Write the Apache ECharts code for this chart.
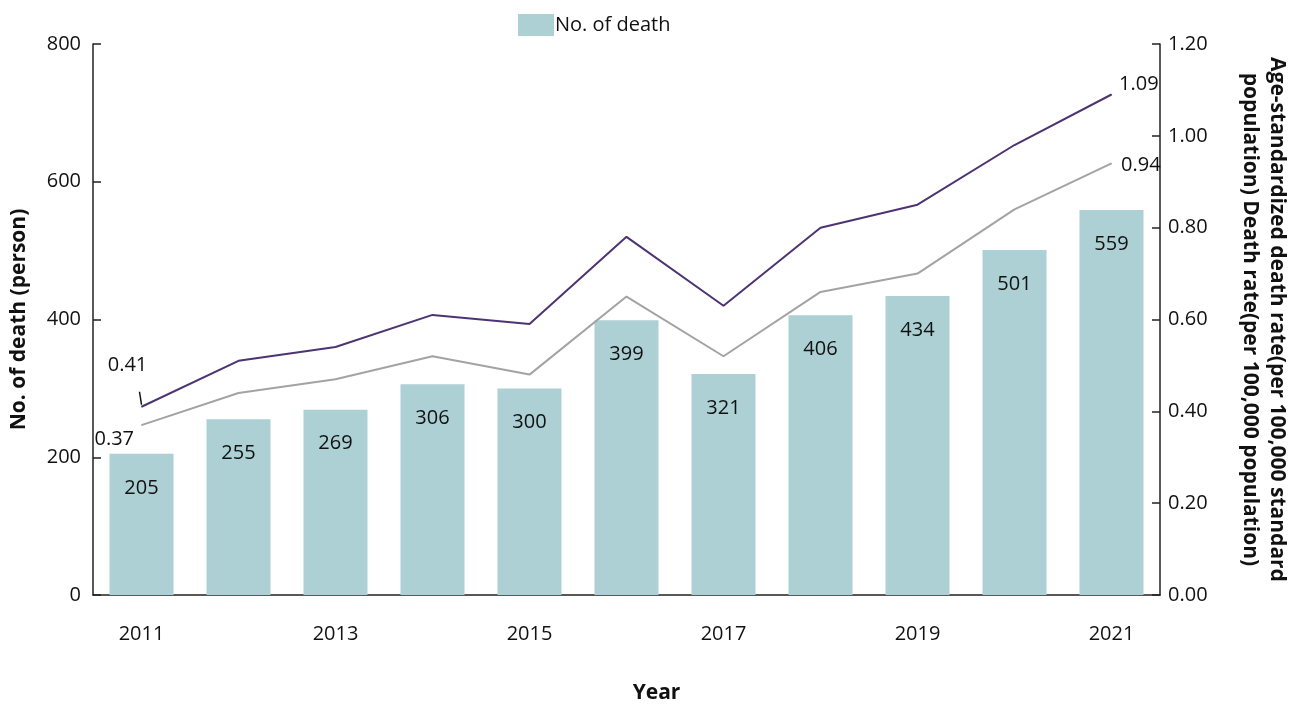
<!DOCTYPE html>
<html>
<head>
<meta charset="utf-8">
<script src="https://cdn.jsdelivr.net/npm/echarts@6/dist/echarts.min.js"></script>
<style>
  html, body { margin: 0; padding: 0; background: #fff; }
  #chart { width: 1290px; height: 704px; }
</style>
</head>
<body>
<div id="chart"></div>
<script>
// data
var years = ['2011', '2012', '2013', '2014', '2015', '2016', '2017', '2018', '2019', '2020', '2021'];
var deaths = [205, 255, 269, 306, 300, 399, 321, 406, 434, 501, 559];
var ageStdRate = [0.41, 0.51, 0.54, 0.61, 0.59, 0.78, 0.63, 0.80, 0.85, 0.98, 1.09];
var crudeRate = [0.37, 0.44, 0.47, 0.52, 0.48, 0.65, 0.52, 0.66, 0.70, 0.84, 0.94];
var leftTicks = { min: 0, max: 800, interval: 200 };
var rightTicks = { min: 0, max: 1.2, interval: 0.2 };

var font = 'Open Sans';
var axisCol = '#222';

// only first / last point of each line carries a label
function endLabels(vals, first, last) {
    return vals.map(function (v, i) {
        var d = { value: v };
        if (i === 0) d.label = first;
        else if (i === vals.length - 1) d.label = last;
        return d;
    });
}

var lblBase = { show: true, color: '#111', fontSize: 20, fontFamily: font, formatter: function (p) { return p.value.toFixed(2); } };

var option = {
    animation: false,
    textStyle: { fontFamily: font },
    legend: {
        data: [{ name: 'No. of death', icon: 'rect' }],
        top: 9,
        left: 513,
        itemWidth: 36,
        itemHeight: 22,
        textStyle: { fontSize: 20, color: '#111', fontFamily: font, padding: [0, 0, 0, -4] }
    },
    grid: { left: 93, right: 130, top: 44, bottom: 109, outerBoundsMode: 'none', containLabel: false },
    xAxis: {
        type: 'category',
        data: years,
        name: 'Year',
        nameLocation: 'middle',
        nameGap: 88,
        nameTextStyle: { fontSize: 21, fontWeight: 'bold', color: '#111', fontFamily: font, padding: [0, 0, 0, 60] },
        axisLine: { lineStyle: { color: axisCol, width: 1.5 } },
        axisTick: { show: false },
        axisLabel: { interval: 1, margin: 29, fontSize: 20, color: '#111', fontFamily: font }
    },
    yAxis: [
        {
            type: 'value',
            min: leftTicks.min, max: leftTicks.max, interval: leftTicks.interval,
            name: 'No. of death (person)',
            nameLocation: 'middle',
            nameGap: 63,
            nameTextStyle: { fontSize: 21, fontWeight: 'bold', color: '#111', fontFamily: font },
            axisLine: { show: true, lineStyle: { color: axisCol, width: 1.5 } },
            axisTick: { show: true, inside: true, length: 8, lineStyle: { color: axisCol, width: 1.5 } },
            axisLabel: { fontSize: 20, color: '#111', margin: 12, fontFamily: font },
            splitLine: { show: false }
        },
        {
            type: 'value',
            position: 'right',
            min: rightTicks.min, max: rightTicks.max, interval: rightTicks.interval,
            name: 'Age-standardized death rate(per 100,000 standard\npopulation) Death rate(per 100,000 population)',
            nameLocation: 'middle',
            nameRotate: -90,
            nameGap: 76,
            nameTextStyle: { fontSize: 21, fontWeight: 'bold', color: '#111', fontFamily: font, lineHeight: 27 },
            axisLine: { show: true, lineStyle: { color: axisCol, width: 1.5 } },
            axisTick: { show: true, inside: true, length: 8, lineStyle: { color: axisCol, width: 1.5 } },
            axisLabel: { fontSize: 20, color: '#111', margin: 8, fontFamily: font, formatter: function (v) { return v.toFixed(2); } },
            splitLine: { show: false }
        }
    ],
    series: [
        {
            name: 'No. of death',
            type: 'bar',
            data: deaths,
            barWidth: '66%',
            itemStyle: { color: '#acd0d4' },
            label: { show: true, position: 'insideTop', distance: 24, fontSize: 20, color: '#111', fontFamily: font }
        },
        {
            name: 'Age-standardized death rate',
            type: 'line',
            yAxisIndex: 1,
            symbol: 'circle',
            symbolSize: 1,
            itemStyle: { color: '#4e3373' },
            lineStyle: { color: '#4e3373', width: 2 },
            label: { show: false },
            data: endLabels(ageStdRate,
                Object.assign({}, lblBase, { position: 'top', offset: [-14, -26] }),
                Object.assign({}, lblBase, { position: 'right', offset: [2, -10] }))
        },
        {
            name: 'Death rate',
            type: 'line',
            yAxisIndex: 1,
            symbol: 'circle',
            symbolSize: 1,
            itemStyle: { color: '#a3a3a3' },
            lineStyle: { color: '#a3a3a3', width: 2 },
            label: { show: false },
            data: endLabels(crudeRate,
                Object.assign({}, lblBase, { position: 'left', offset: [-2, 14] }),
                Object.assign({}, lblBase, { position: 'right', offset: [4, 2] }))
        }
    ]
};

var chart = echarts.init(document.getElementById('chart'));
chart.setOption(option);

// short leader line under the first label of the upper line
var p = chart.convertToPixel({ xAxisIndex: 0, yAxisIndex: 1 }, [0, ageStdRate[0]]);
chart.setOption({
    graphic: [{
        type: 'line',
        shape: { x1: p[0], y1: p[1] - 2, x2: p[0] - 2, y2: p[1] - 15 },
        style: { stroke: '#111', lineWidth: 1.5 }
    }]
});
</script>
</body>
</html>
